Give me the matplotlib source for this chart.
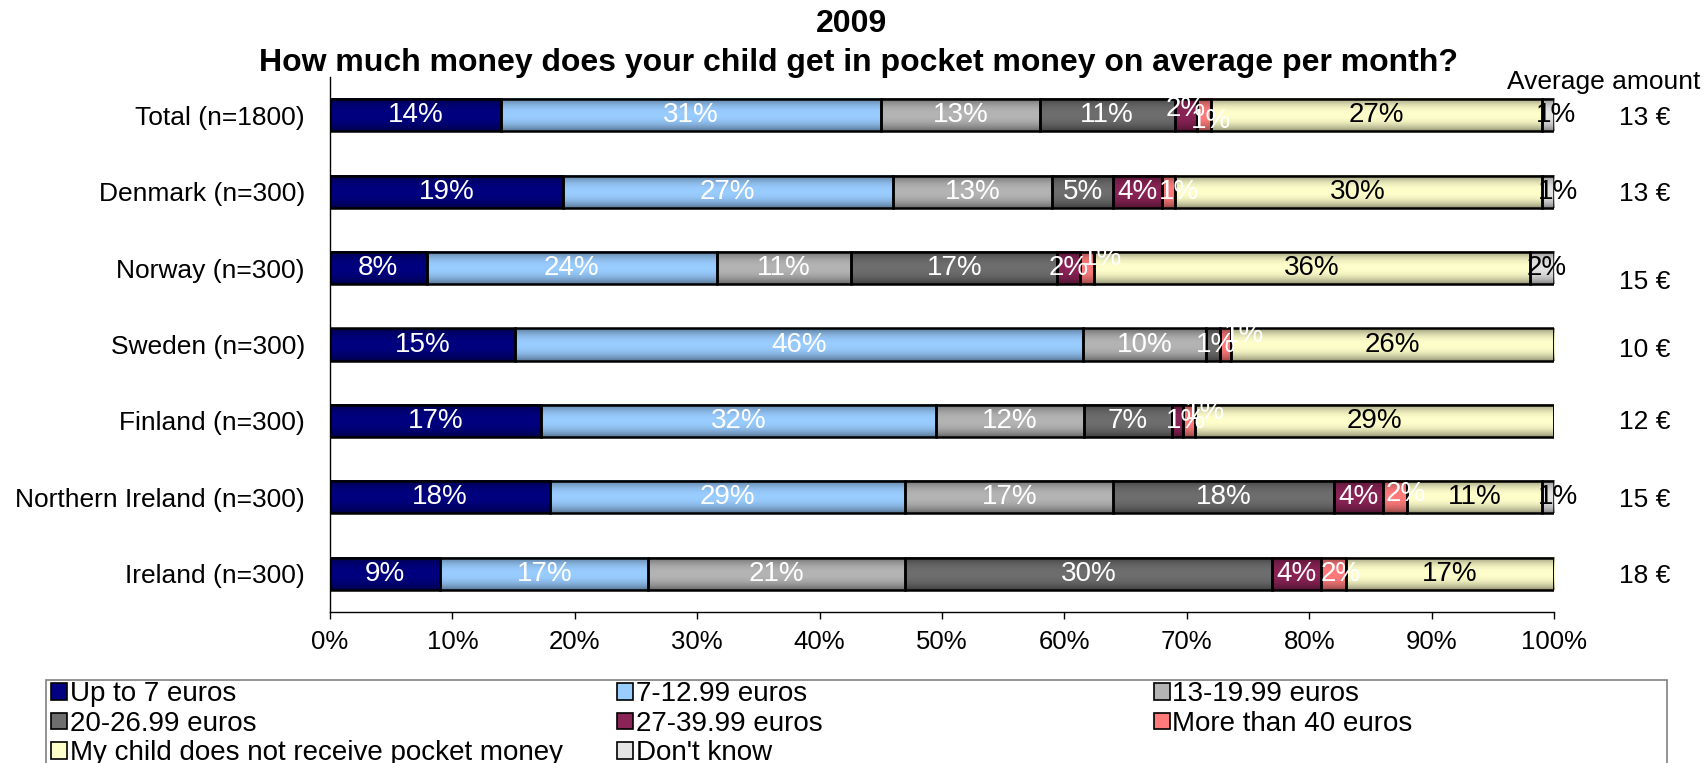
import numpy as np
import matplotlib.pyplot as plt
from matplotlib.patches import Patch, Rectangle
from matplotlib.colors import to_rgb

plt.rcParams["font.family"] = ["Liberation Sans", "DejaVu Sans"]

# survey groups, top to bottom
groups = [
    "Total (n=1800)",
    "Denmark (n=300)",
    "Norway (n=300)",
    "Sweden (n=300)",
    "Finland (n=300)",
    "Northern Ireland (n=300)",
    "Ireland (n=300)",
]
answers = [
    "Up to 7 euros",
    "7-12.99 euros",
    "13-19.99 euros",
    "20-26.99 euros",
    "27-39.99 euros",
    "More than 40 euros",
    "My child does not receive pocket money",
    "Don't know",
]

# share of answers per group (%)
up_to_7 = [14.0, 19.0, 7.9, 15.1, 17.2, 18.0, 9.0]
from_7 = [31.0, 27.0, 23.7, 46.4, 32.3, 29.0, 17.0]
from_13 = [13.0, 13.0, 11.0, 10.1, 12.1, 17.0, 21.0]
from_20 = [11.0, 5.0, 16.8, 1.1, 7.2, 18.0, 30.0]
from_27 = [1.8, 4.0, 1.9, 0.0, 0.9, 4.0, 4.0]
over_40 = [1.2, 1.0, 1.1, 0.9, 1.0, 2.0, 2.0]
no_money = [27.0, 30.0, 35.6, 26.4, 29.3, 11.0, 17.0]
dont_know = [1.0, 1.0, 2.0, 0.0, 0.0, 1.0, 0.0]

avg_amount = [13, 13, 15, 10, 12, 15, 18]

series = [up_to_7, from_7, from_13, from_20, from_27, over_40, no_money, dont_know]
colors = ["#000080", "#99ccff", "#b4b4b4", "#6e6e6e", "#8a2356",
          "#ff7b7b", "#ffffcc", "#e4e4e4"]
label_colors = ["white"] * 6 + ["black"] * 2

# hand-placed nudges for crowded labels: (group, answer) -> (dx %, dy up)
nudges = {
    (0, 4): (0.0, 0.08), (0, 5): (0.6, -0.08), (0, 7): (0.7, 0.0),
    (1, 5): (0.9, 0.0), (1, 7): (0.8, 0.0),
    (2, 5): (1.2, 0.13), (2, 7): (0.4, 0.0),
    (3, 3): (0.2, 0.0), (3, 5): (1.5, 0.13),
    (4, 4): (0.7, 0.0), (4, 5): (1.3, 0.12),
    (5, 5): (0.9, 0.05), (5, 7): (0.8, 0.0),
    (6, 5): (0.6, 0.0),
}
avg_dy = [-0.03, -0.03, -0.18, -0.07, -0.01, -0.03, -0.03]

fig = plt.figure(figsize=(17.06, 7.63), dpi=100)
ax = fig.add_axes([330 / 1706, 1 - 612 / 763, 1224 / 1706, 535 / 763])

y = np.arange(len(groups))
bar_h = 0.42
t = np.linspace(-1, 1, 64)
shade = 1 - 0.42 * np.abs(t) ** 2.2

left = np.zeros(len(groups))
for j, vals in enumerate(series):
    vals = np.array(vals)
    base = np.array(to_rgb(colors[j]))
    grad = (shade[:, None] * base[None, :])[:, None, :]
    bars = ax.barh(y, vals, left=left, height=bar_h, facecolor="none",
                   edgecolor="black", linewidth=1.8, zorder=3)
    for i, (bar, v) in enumerate(zip(bars, vals)):
        if v <= 0:
            continue
        ax.imshow(grad, extent=(left[i], left[i] + v, y[i] + bar_h / 2, y[i] - bar_h / 2),
                  aspect="auto", zorder=2, interpolation="bilinear")
        dx, dy = nudges.get((i, j), (0.0, 0.0))
        ax.text(left[i] + v / 2 + dx, y[i] - dy, f"{v:.0f}%", ha="center",
                va="center", color=label_colors[j], fontsize=20, zorder=4)
    left += vals

ax.set_xlim(0, 100)
ax.set_ylim(len(groups) - 0.5, -0.5)
ax.set_yticks(y)
ax.set_yticklabels(groups, fontsize=19)
ax.set_xticks(np.arange(0, 101, 10))
ax.set_xticklabels([f"{v}%" for v in range(0, 101, 10)], fontsize=18.5)
ax.tick_params(axis="y", length=0, pad=18)
ax.tick_params(axis="x", length=5, width=1, pad=8)
for side in ["top", "right"]:
    ax.spines[side].set_visible(False)
ax.spines["left"].set_linewidth(1)
ax.spines["bottom"].set_linewidth(1)

# average amount column
ax.text(104.1, -0.43, "Average amount", ha="center", va="center", fontsize=19,
        clip_on=False)
for i, a in enumerate(avg_amount):
    ax.text(107.4, y[i] - avg_dy[i], f"{a} €", ha="center", va="center",
            fontsize=19, clip_on=False)

fig.text(0.499, 0.969, "2009", ha="center", va="center", fontsize=23,
         fontweight="bold")
fig.text(0.503, 0.918,
         "How much money does your child get in pocket money on average per month?",
         ha="center", va="center", fontsize=23, fontweight="bold")

# legend: frame plus three columns
fig.add_artist(Rectangle((46 / 1706, -0.05), (1667 - 46) / 1706, 0.05 + (1 - 680 / 763),
                         transform=fig.transFigure, facecolor="white",
                         edgecolor="#808080", linewidth=1.2))
handles = [Patch(facecolor=c, edgecolor="black", linewidth=1.2) for c in colors]
col_x = [32, 598, 1135]
for k, x0 in enumerate(col_x):
    idx = list(range(k, len(answers), 3))
    fig.legend([handles[n] for n in idx], [answers[n] for n in idx],
               loc="upper left", bbox_to_anchor=(x0 / 1706, 1 - 662 / 763),
               frameon=False, fontsize=20, handlelength=0.55, handleheight=0.55,
               handletextpad=0.1, labelspacing=0.12, borderpad=0.2)

fig.savefig("out.png", dpi=100)
